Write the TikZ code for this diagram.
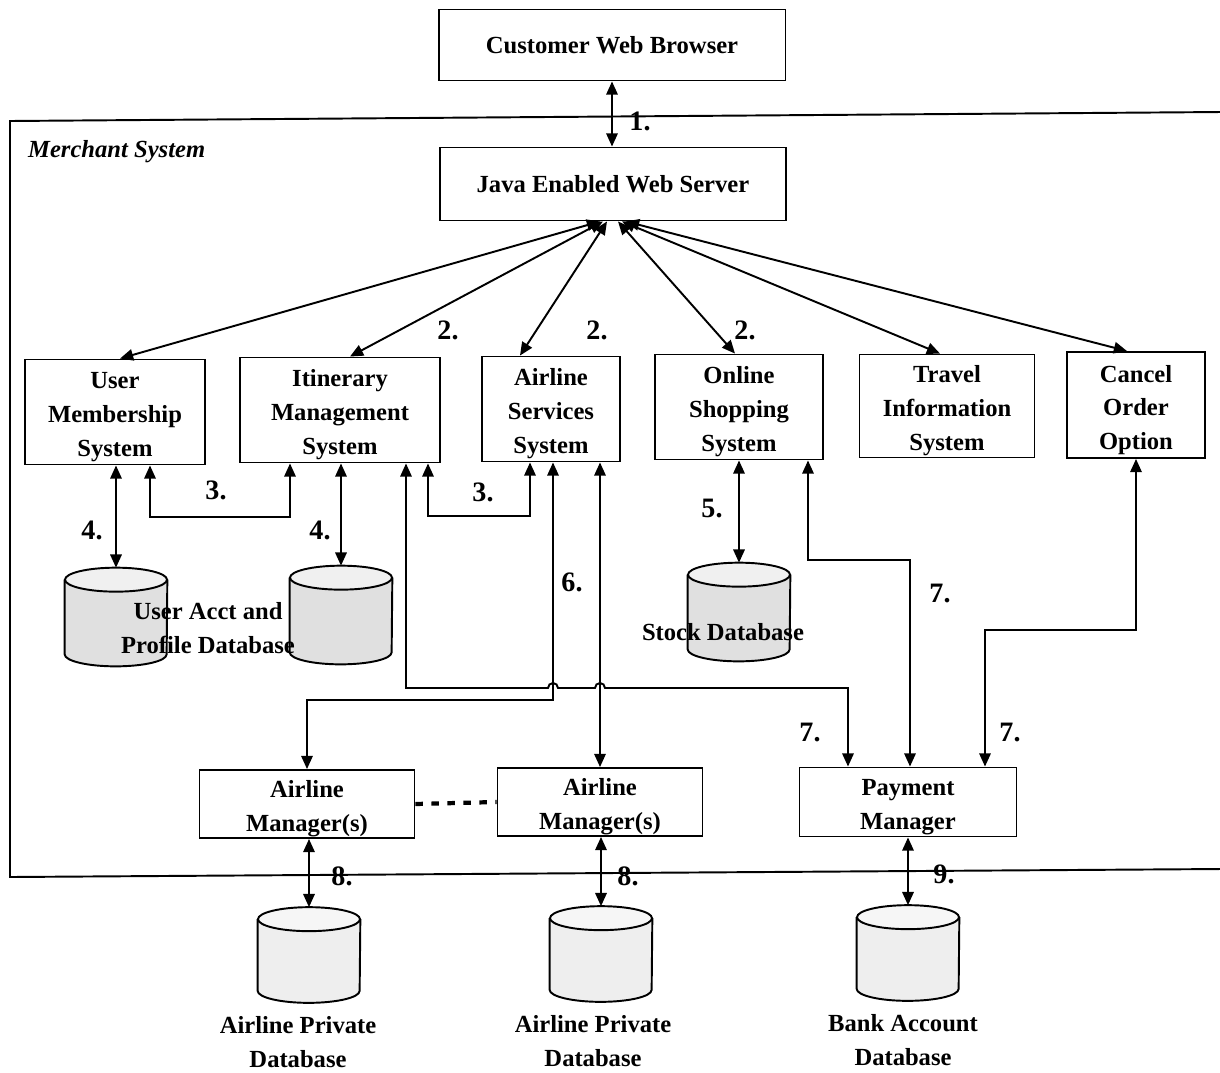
\documentclass[tikz,border=0pt]{standalone}
\usepackage{fontspec}
\setmainfont{Liberation Serif}
\usetikzlibrary{arrows.meta,calc,positioning}

\tikzset{
  box/.style={draw,line width=1.1pt,inner sep=0pt,align=center,font=\fontsize{14}{19.3}\selectfont\bfseries},
  tribox/.style={box,text height=54pt},
  duobox/.style={box,text height=34.5pt},
  dbase/.style={inner sep=0pt,minimum width=2.04cm,minimum height=1.96cm},
  num/.style={font=\fontsize{16}{16}\selectfont\bfseries},
  lbl/.style={align=center,font=\fontsize{14}{19.3}\selectfont\bfseries},
  biarrow/.style={line width=1.1pt,{Triangle[length=7.5pt,width=6.5pt]}-{Triangle[length=7.5pt,width=6.5pt]}},
}
% cylinder drawn over a named node: name, body fill, top fill
\newcommand{\drawdb}[3]{%
  \fill[#2] ($(#1.north west)+(0,-0.24cm)$) -- ($(#1.south west)+(0,0.24cm)$)
    arc[start angle=180,end angle=360,x radius=1.02cm,y radius=0.24cm]
    -- ($(#1.north east)+(0,-0.24cm)$) -- cycle;
  \draw[line width=1.1pt] ($(#1.north west)+(0,-0.24cm)$) -- ($(#1.south west)+(0,0.24cm)$)
    arc[start angle=180,end angle=360,x radius=1.02cm,y radius=0.24cm]
    -- ($(#1.north east)+(0,-0.24cm)$);
  \draw[line width=1.1pt,fill=#3] ($(#1.north)+(0,-0.24cm)$) ellipse[x radius=1.02cm,y radius=0.24cm];
}

\begin{document}
\begin{tikzpicture}[x=0.02cm,y=-0.02cm]
        \useasboundingbox (0,0) rectangle (1220,1072);
        \draw[line width=1.1pt] (1222,112) -- (10,121) -- (10,877) -- (1222,869);
        \node[right,font=\fontsize{14}{14}\selectfont\bfseries\itshape] (merchant) at (22,152) {Merchant System};
        \node[box,minimum width=6.94cm,minimum height=1.42cm] (browser) at (612,45) {Customer Web Browser};
        \node[box,minimum width=6.92cm,minimum height=1.46cm] (server) at (613,184) {Java Enabled Web Server};
        \node[tribox,minimum width=3.6cm,minimum height=2.1cm] (umem) at (115,412) {User\\Membership\\System};
        \node[tribox,minimum width=4cm,minimum height=2.1cm] (itin) at (340,410) {Itinerary\\Management\\System};
        \node[tribox,minimum width=2.76cm,minimum height=2.1cm] (airs) at (551,409) {Airline\\Services\\System};
        \node[tribox,minimum width=3.36cm,minimum height=2.1cm] (shop) at (739,407) {Online\\Shopping\\System};
        \node[tribox,minimum width=3.5cm,minimum height=2.06cm] (travel) at (947,406) {Travel\\Information\\System};
        \node[tribox,minimum width=2.76cm,minimum height=2.12cm] (cancel) at (1136,405) {Cancel\\Order\\Option};
        \node[duobox,minimum width=4.3cm,minimum height=1.36cm] (am1) at (307,804) {Airline\\Manager(s)};
        \node[duobox,minimum width=4.1cm,minimum height=1.36cm] (am2) at (600,802) {Airline\\Manager(s)};
        \node[duobox,minimum width=4.34cm,minimum height=1.38cm] (pay) at (908,802) {Payment\\Manager};
        \node[dbase] (uadb) at (116,617) {};
        \node[dbase] (itdb) at (341,615) {};
        \node[dbase] (stdb) at (739,612) {};
        \node[dbase,minimum height=1.9cm] (ap1db) at (309,955) {};
        \node[dbase,minimum height=1.9cm] (ap2db) at (601,954) {};
        \node[dbase,minimum height=1.9cm] (bankdb) at (908,953) {};
        \drawdb{uadb}{gray!24}{gray!12}
        \drawdb{itdb}{gray!24}{gray!12}
        \drawdb{stdb}{gray!24}{gray!12}
        \drawdb{ap1db}{gray!13}{gray!7}
        \drawdb{ap2db}{gray!13}{gray!7}
        \drawdb{bankdb}{gray!13}{gray!7}
        \node[lbl] (ualbl) at (208,628) {User Acct and\\Profile Database};
        \node[lbl] (stlbl) at (723,632) {Stock Database};
        \node[lbl] (ap1lbl) at (298,1042) {Airline Private\\Database};
        \node[lbl] (ap2lbl) at (593,1041) {Airline Private\\Database};
        \node[lbl] (banklbl) at (903,1040) {Bank Account\\Database};
        \draw[biarrow] (browser.south) -- (browser.south |- server.north);
        \draw[biarrow] ($(server.south)+(-13,0)$) -- ($(umem.north)+(5,0)$);
        \draw[biarrow] ($(server.south)+(-10,0)$) -- ($(itin.north)+(10,0)$);
        \draw[biarrow] ($(server.south)+(-6,0)$) -- ($(airs.north)+(-31,0)$);
        \draw[biarrow] ($(server.south)+(5,0)$) -- ($(shop.north)+(-4,0)$);
        \draw[biarrow] ($(server.south)+(9,0)$) -- ($(travel.north)+(-7,0)$);
        \draw[biarrow] ($(server.south)+(13,0)$) -- ($(cancel.north)+(-9,0)$);
        \draw[biarrow] ($(umem.south)+(35,0)$) -- ++(0,52) -| ($(itin.south)+(-50,0)$);
        \draw[biarrow] ($(itin.south)+(88,0)$) -- ++(0,53) -| ($(airs.south)+(-21,0)$);
        \draw[biarrow] (uadb.north |- umem.south) -- (uadb.north);
        \draw[biarrow] (itdb.north |- itin.south) -- (itdb.north);
        \draw[biarrow] (stdb.north |- shop.south) -- (stdb.north);
        \draw[biarrow] ($(itin.south)+(66,0)$) -- (406,688) -- (548,688) arc[start angle=180,end angle=0,radius=0.1cm] -- (595,688) arc[start angle=180,end angle=0,radius=0.1cm] -- (848,688) -- ($(pay.north)+(-60,0)$);
        \draw[biarrow] ($(airs.south)+(2,0)$) -- (553,700) -| (am1.north);
        \draw[biarrow] (am2.north |- airs.south) -- (am2.north);
        \draw[biarrow] ($(shop.south)+(69,0)$) -- (808,560) -| ($(pay.north)+(2,0)$);
        \draw[biarrow] (cancel.south) -- (1136,630) -| ($(pay.north)+(77,0)$);
        \draw[line width=2.4pt,dash pattern=on 0.15cm off 0.17cm] (am1.east) -- (am2.west);
        \draw[biarrow] (ap1db.north |- am1.south) -- (ap1db.north);
        \draw[biarrow] (ap2db.north |- am2.south) -- (ap2db.north);
        \draw[biarrow] (bankdb.north |- pay.south) -- (bankdb.north);
        \node[num] (n1) at (640,121) {1.};
        \node[num] (n2a) at (448,330) {2.};
        \node[num] (n2b) at (597,330) {2.};
        \node[num] (n2c) at (745,330) {2.};
        \node[num] (n3a) at (216,490) {3.};
        \node[num] (n3b) at (483,492) {3.};
        \node[num] (n4a) at (92,530) {4.};
        \node[num] (n4b) at (320,530) {4.};
        \node[num] (n5) at (712,508) {5.};
        \node[num] (n6) at (572,582) {6.};
        \node[num] (n7a) at (940,593) {7.};
        \node[num] (n7b) at (810,732) {7.};
        \node[num] (n7c) at (1010,732) {7.};
        \node[num] (n8a) at (342,876) {8.};
        \node[num] (n8b) at (628,876) {8.};
        \node[num] (n9) at (944,874) {9.};
    \end{tikzpicture}
\end{document}
